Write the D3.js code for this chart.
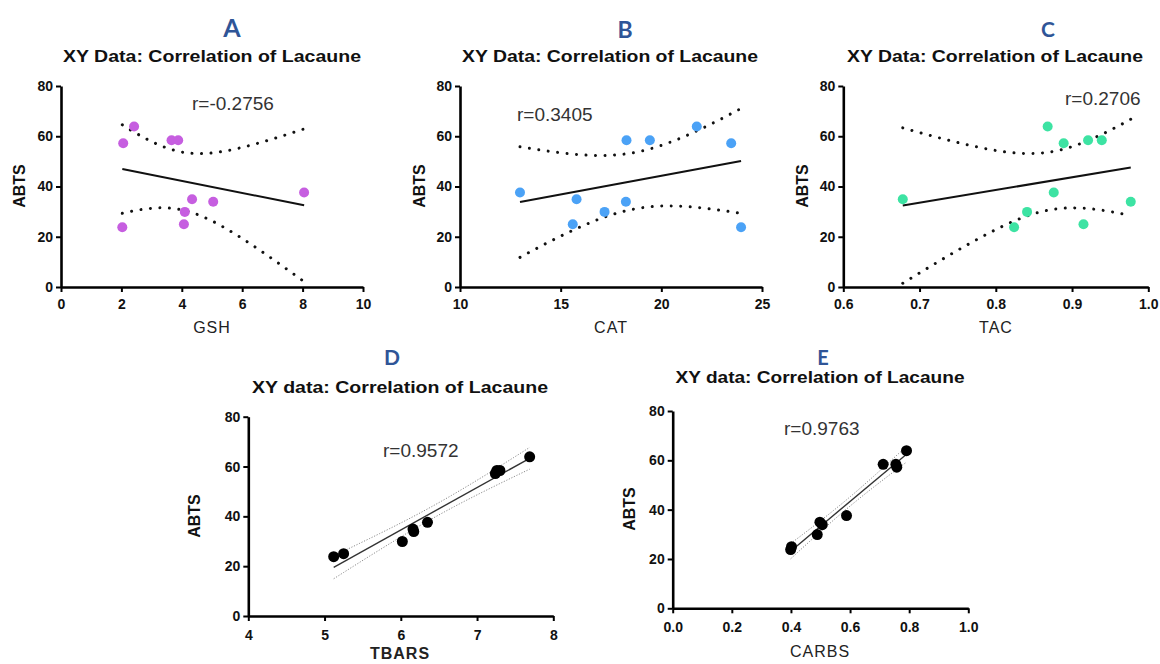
<!DOCTYPE html>
<html>
<head>
<meta charset="utf-8">
<script src="https://cdn.jsdelivr.net/npm/d3@7"></script>
<style>
  html, body { margin: 0; padding: 0; background: #fff; }
  svg { display: block; }
</style>
</head>
<body>
<svg id="chart" width="1160" height="664"></svg>
<script>
// ABTS values shared by all five correlation panels (same sample order in every x array)
const abts  = [23.8, 25.0, 29.9, 33.9, 34.9, 37.6, 57.2, 58.4, 58.4, 63.9];
// Paired x measurements
const gsh   = [2.03, 4.07, 4.10, 5.04, 4.34, 8.05, 2.06, 3.66, 3.88, 2.42];
const cat   = [23.96, 15.60, 17.18, 18.24, 15.79, 12.98, 23.47, 18.27, 19.43, 21.76];
const tac   = [0.824, 0.915, 0.841, 0.977, 0.678, 0.876, 0.889, 0.921, 0.939, 0.868];
const tbars = [5.12, 5.25, 6.02, 6.17, 6.16, 6.35, 7.24, 7.26, 7.30, 7.69];
const carbs = [0.399, 0.402, 0.489, 0.506, 0.498, 0.588, 0.758, 0.712, 0.755, 0.791];

const panelLetters = ["A", "B", "C", "D", "E"];
const panelTitles  = ["XY Data: Correlation of Lacaune", "XY Data: Correlation of Lacaune",
                      "XY Data: Correlation of Lacaune", "XY data: Correlation of Lacaune",
                      "XY data: Correlation of Lacaune"];
const rLabels      = ["r=-0.2756", "r=0.3405", "r=0.2706", "r=0.9572", "r=0.9763"];
const xLabels      = ["GSH", "CAT", "TAC", "TBARS", "CARBS"];
const xTickValues  = [[0, 2, 4, 6, 8, 10], [10, 15, 20, 25], [0.6, 0.7, 0.8, 0.9, 1.0],
                      [4, 5, 6, 7, 8], [0, 0.2, 0.4, 0.6, 0.8, 1.0]];
const yTickValues  = [0, 20, 40, 60, 80];
const yLabel       = "ABTS";

// Layout / style for each panel
const panels = [
  { x: gsh,   xDom: [0, 10],   fmt: d3.format("d"),   px: [61, 363],    py: [287, 86],
    color: "#c65ee0", r: 5, letter: [232, 37, 25], title: [212, 62, 298],
    rPos: [192, 110], yLab: [25, 186], xLab: [212, 333, 400], band: "top" },
  { x: cat,   xDom: [10, 25],  fmt: d3.format("d"),   px: [460, 762],   py: [287, 86],
    color: "#4ba2f6", r: 5, letter: [625, 38, 23], title: [610, 62, 296],
    rPos: [517, 121], yLab: [425, 186], xLab: [611, 333, 400], band: "top" },
  { x: tac,   xDom: [0.6, 1.0], fmt: d3.format(".1f"), px: [843.3, 1148.3], py: [287, 86],
    color: "#3de3a3", r: 5, letter: [1048, 37, 21], title: [995, 62, 296],
    rPos: [1065, 105], yLab: [808, 186], xLab: [996, 333, 400], band: "top" },
  { x: tbars, xDom: [4, 8],    fmt: d3.format("d"),   px: [248.3, 553.3], py: [616, 416.7],
    color: "#000", r: 5.5, letter: [392, 365, 21], title: [400, 393, 296],
    rPos: [383, 457], yLab: [200, 516], xLab: [400, 659, 700], band: "bottom" },
  { x: carbs, xDom: [0, 1.0],  fmt: d3.format(".1f"), px: [672.7, 968.3], py: [608.3, 411],
    color: "#000", r: 5.5, letter: [823, 365, 20], title: [820, 383, 289],
    rPos: [784, 435], yLab: [635, 509], xLab: [820, 657, 400], band: "bottom" }
];

const svg = d3.select("#chart");
const FONT = "'Liberation Sans', Arial, sans-serif";

// Least-squares fit with 95% confidence band of the mean (t, df = n - 2 = 8)
function fit(xs, ys) {
  const n = xs.length;
  const mx = d3.mean(xs), my = d3.mean(ys);
  let sxx = 0, sxy = 0, syy = 0;
  for (let i = 0; i < n; i++) {
    sxx += (xs[i] - mx) ** 2;
    sxy += (xs[i] - mx) * (ys[i] - my);
    syy += (ys[i] - my) ** 2;
  }
  const b = sxy / sxx, a = my - b * mx;
  const s = Math.sqrt((syy - sxy * sxy / sxx) / (n - 2));
  const t = 2.306;
  return {
    yhat: x => a + b * x,
    half: x => t * s * Math.sqrt(1 / n + (x - mx) ** 2 / sxx)
  };
}

panels.forEach((p, i) => {
  const g = svg.append("g");
  const xs = d3.scaleLinear().domain(p.xDom).range(p.px);
  const ys = d3.scaleLinear().domain([0, 80]).range(p.py);
  const topRow = p.band === "top";

  // Panel letter
  g.append("text")
    .attr("x", p.letter[0]).attr("y", p.letter[1])
    .attr("text-anchor", "middle")
    .style("font-family", "Lato, 'Open Sans', sans-serif")
    .style("font-weight", 700)
    .style("font-size", p.letter[2] + "px")
    .style("fill", "#2f5597")
    .text(panelLetters[i]);

  // Panel title
  g.append("text")
    .attr("x", p.title[0] - p.title[2] / 2).attr("y", p.title[1])
    .attr("textLength", p.title[2]).attr("lengthAdjust", "spacingAndGlyphs")
    .style("font-family", FONT).style("font-weight", 700).style("font-size", "16.5px")
    .style("fill", "#111")
    .text(panelTitles[i]);

  // Axes
  const xAxis = d3.axisBottom(xs).tickValues(xTickValues[i]).tickFormat(p.fmt)
    .tickSizeInner(5).tickSizeOuter(0).tickPadding(topRow ? 7 : 9);
  const yAxis = d3.axisLeft(ys).tickValues(yTickValues)
    .tickSizeInner(5).tickSizeOuter(0).tickPadding(3);

  const gx = g.append("g").attr("transform", `translate(0,${p.py[0]})`).call(xAxis);
  const gy = g.append("g").attr("transform", `translate(${p.px[0]},0)`).call(yAxis);
  [gx, gy].forEach(ax => {
    ax.select(".domain").attr("stroke", "#000").attr("stroke-width", 2.6);
    ax.selectAll(".tick line").attr("stroke", "#000").attr("stroke-width", 2);
    ax.selectAll(".tick text")
      .style("font-family", FONT).style("font-weight", 700).style("font-size", "14px")
      .style("fill", "#111");
  });

  // Axis titles
  g.append("text")
    .attr("transform", `translate(${p.yLab[0]},${p.yLab[1]}) rotate(-90)`)
    .attr("text-anchor", "middle")
    .style("font-family", FONT).style("font-weight", 700).style("font-size", "16px")
    .style("fill", "#111")
    .text(yLabel);
  g.append("text")
    .attr("x", p.xLab[0]).attr("y", p.xLab[1])
    .attr("text-anchor", "middle")
    .style("font-family", FONT).style("font-weight", p.xLab[2]).style("font-size", "16px")
    .style("letter-spacing", "1px")
    .style("fill", "#222")
    .text(xLabels[i]);

  // Regression line and confidence band
  const f = fit(p.x, abts);
  const [xmin, xmax] = d3.extent(p.x);
  const grid = d3.range(0, 61).map(k => xmin + (xmax - xmin) * k / 60);
  const line = d3.line().x(d => xs(d[0])).y(d => ys(d[1]));

  const upper = grid.map(x => [x, f.yhat(x) + f.half(x)]);
  const lower = grid.map(x => [x, f.yhat(x) - f.half(x)]);
  [upper, lower].forEach(pts => {
    const path = g.append("path").datum(pts).attr("d", line).attr("fill", "none");
    if (topRow) {
      path.attr("stroke", "#111").attr("stroke-width", 3)
        .attr("stroke-linecap", "round").attr("stroke-dasharray", "0.01,9.5");
    } else {
      path.attr("stroke", "#8a8a8a").attr("stroke-width", 1)
        .attr("stroke-dasharray", "1.2,1.6");
    }
  });
  g.append("path")
    .datum([[xmin, f.yhat(xmin)], [xmax, f.yhat(xmax)]])
    .attr("d", line).attr("fill", "none")
    .attr("stroke", topRow ? "#111" : "#333")
    .attr("stroke-width", topRow ? 2 : 1.4);

  // Points
  g.selectAll("circle.pt").data(p.x.map((x, k) => [x, abts[k]])).join("circle")
    .attr("class", "pt")
    .attr("cx", d => xs(d[0])).attr("cy", d => ys(d[1]))
    .attr("r", p.r).attr("fill", p.color);

  // Correlation coefficient
  g.append("text")
    .attr("x", p.rPos[0]).attr("y", p.rPos[1])
    .style("font-family", FONT).style("font-size", "19px").style("fill", "#333")
    .text(rLabels[i]);
});
</script>
</body>
</html>
